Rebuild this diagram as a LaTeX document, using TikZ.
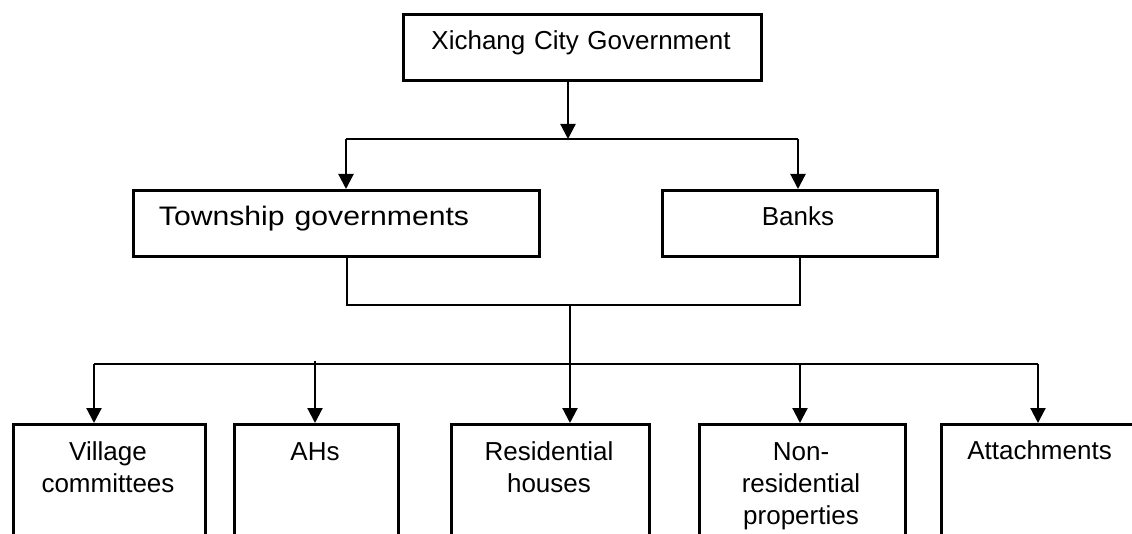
\documentclass[tikz,border=0pt]{standalone}
\usepackage{graphicx}
\usepackage{fontspec}
\setmainfont{Liberation Sans}
\usetikzlibrary{arrows.meta}
\begin{document}
\begin{tikzpicture}[x=1pt,y=-1pt,
  box/.style={draw, line width=2.6pt, inner sep=0pt, anchor=north west, minimum height=66pt},
  lowbox/.style={box, minimum height=140pt},
  lbl/.style={inner sep=0pt, anchor=base, font=\fontsize{26}{32}\selectfont, align=center, text width=220pt},
  conn/.style={line width=2.2pt},
  arr/.style={conn, -{Triangle[length=15pt,width=15pt]}}]
\useasboundingbox (0,0) rectangle (1132,534);
\clip (0,0) rectangle (1132,534);
% boxes
\node[box, minimum width=358pt] (gov) at (402,13) {};
\node[box, minimum width=406pt] (town) at (132,189) {};
\node[box, minimum width=275pt] (bank) at (661,189) {};
\node[lowbox, minimum width=192pt] (vil) at (12,423) {};
\node[lowbox, minimum width=164pt] (ah) at (233,423) {};
\node[lowbox, minimum width=198pt] (res) at (450,423) {};
\node[lowbox, minimum width=206pt] (non) at (698,423) {};
\node[lowbox, minimum width=199pt] (att) at (940,423) {};
% texts
\node[lbl, text width=340pt] (tgov) at (581,50) {Xichang City Government};
\node[lbl, text width=380pt] (ttown) at (314,226) {\scalebox{1.16}[1.03]{Township governments}};
\node[lbl] (tbank) at (798,226) {Banks};
\node[lbl] (tvil) at (108,460) {Village\\committees};
\node[lbl] (tah) at (315,460) {AHs};
\node[lbl] (tres) at (549,460) {Residential\\houses};
\node[lbl] (tnon) at (801,460) {Non-\\residential\\properties};
\node[lbl] (tatt) at (1039.5,459) {Attachments};
% junctions
\coordinate (j) at (568,139);
\coordinate (jL) at (346,139);
\coordinate (jR) at (798,139);
\coordinate (kL) at (347,305);
\coordinate (kR) at (800,305);
\coordinate (k) at (570,305);
\coordinate (mL) at (94,364);
\coordinate (mA) at (315,364);
\coordinate (mN) at (800,364);
\coordinate (mR) at (1038,364);
% connectors
\draw[arr] (gov.south -| j) -- (j);
\draw[conn] (jL) -- (jR);
\draw[arr] (jL) -- (jL |- town.north);
\draw[arr] (jR) -- (jR |- bank.north);
\draw[conn] (kL |- town.south) -- (kL) -- (kR) -- (kR |- bank.south);
\draw[arr] (k) -- (k |- res.north);
\draw[conn] (mL) -- (mR);
\draw[arr] (mL) -- (mL |- vil.north);
\draw[arr] ([yshift=3pt]mA) -- (mA |- ah.north);
\draw[arr] (mN) -- (mN |- non.north);
\draw[arr] (mR) -- (mR |- att.north);
\end{tikzpicture}
\end{document}
